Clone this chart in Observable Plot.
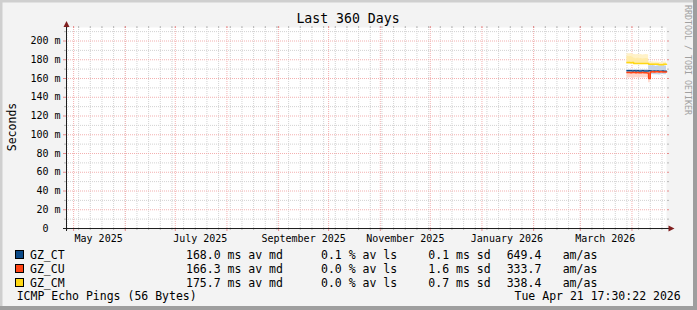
<!DOCTYPE html>
<html><head><meta charset="utf-8">
<script src="https://cdn.jsdelivr.net/npm/d3@7"></script>
<script src="https://cdn.jsdelivr.net/npm/@observablehq/plot@0.6"></script>
<style>
html,body{margin:0;padding:0;background:#f3f3f3;}
#chart{position:relative;width:697px;height:310px;overflow:hidden;}
#chart svg{display:block;}
</style></head><body><div id="chart"></div>
<script>
// ---- chart data ----
const titleText = "Last 360 Days";
const yTitle = "Seconds";
const watermark = "RRDTOOL / TOBI OETIKER";
const footerLeft = "ICMP Echo Pings (56 Bytes)";
const footerRight = "Tue Apr 21 17:30:22 2026";

const endTime = new Date(Date.UTC(2026, 3, 21, 17, 30, 22));
const spanDays = 360;

const yMajor = [0, 20, 40, 60, 80, 100, 120, 140, 160, 180, 200];
const yMinor = [10, 30, 50, 70, 90, 110, 130, 150, 170, 190, 210];
const xLabelDates = ["2025-05-16", "2025-07-16", "2025-09-16", "2025-11-16", "2026-01-16", "2026-03-16"];
const xLabels = ["May 2025", "July 2025", "September 2025", "November 2025", "January 2026", "March 2026"];

const hosts = ["GZ_CT", "GZ_CU", "GZ_CM"];
const hostColors = ["#0B4A88", "#FF4414", "#FFD814"];
const smokeColors = ["#C6D3E6", "#FFD3C6", "#FFF1C2"];
const avMedian = ["168.0", "166.3", "175.7"];
const avLoss = ["0.1", "0.0", "0.0"];
const avSd = ["0.1", "1.6", "0.7"];
const amas = ["649.4", "333.7", "338.4"];

const days = ["2026-03-29","2026-03-30","2026-03-31","2026-04-01","2026-04-02","2026-04-03",
  "2026-04-04","2026-04-05","2026-04-06","2026-04-07","2026-04-08","2026-04-09","2026-04-10",
  "2026-04-11","2026-04-12","2026-04-13","2026-04-14","2026-04-15","2026-04-16","2026-04-17",
  "2026-04-18","2026-04-19","2026-04-20","2026-04-21"];
// medians in ms
const ctMedian = [168.2,168.3,168.2,168.1,168.2,168.1,168.2,168.0,168.1,168.2,168.1,168.0,168.1,168.3,167.9,167.8,167.9,167.8,167.9,167.7,167.8,167.9,167.8,167.8];
const cuMedian = [166.4,166.3,166.2,166.3,166.4,166.2,166.3,166.1,166.2,166.3,166.1,166.2,166.0,160.0,167.0,167.1,167.0,167.2,167.1,167.0,167.1,166.9,167.0,166.9];
const cmMedian = [177.1,177.0,176.9,177.0,176.1,176.0,175.9,176.0,176.1,175.9,176.0,176.0,175.9,175.3,175.2,175.3,175.2,175.3,175.2,174.8,174.7,174.8,175.2,175.2];
// smoke ranges in ms
const ctLow  = [166.9,166.9,166.8,166.9,166.8,166.9,166.8,166.8,166.9,166.8,166.9,166.8,166.9,164.0,163.8,164.2,164.0,163.9,164.1,163.8,164.0,164.2,164.0,164.1];
const ctHigh = [169.4,169.5,169.4,169.3,169.4,169.5,169.4,169.3,169.4,169.5,169.4,169.3,169.4,173.6,173.4,173.8,173.5,173.2,173.6,173.4,173.5,173.3,173.6,173.4];
const cuLow  = [160.6,160.5,160.8,160.6,160.4,160.7,160.5,160.6,160.8,160.5,160.6,160.7,160.5,155.5,165.6,165.5,165.7,165.6,165.4,165.6,165.5,165.7,165.6,165.5];
const cuHigh = [167.4,167.5,167.3,167.4,167.5,167.3,167.4,167.5,167.3,167.4,167.5,167.3,167.4,167.2,168.4,168.5,168.3,168.4,168.5,168.3,168.4,168.5,168.3,168.4];
const cmLow  = [175.1,175.0,175.2,175.0,175.1,175.0,175.2,175.1,175.0,175.1,175.0,175.2,175.1,174.4,174.3,174.4,174.3,174.2,174.4,174.0,173.9,174.0,174.3,174.4];
const cmHigh = [186.5,186.3,186.6,185.9,185.6,185.4,185.7,185.3,185.5,185.2,185.4,185.6,185.3,178.0,177.6,177.8,177.5,177.7,177.6,177.3,177.2,177.4,177.6,177.5];
const cmCoreLow  = [176.2,176.1,176.3,176.2,175.8,175.7,175.9,175.8,175.7,175.8,175.9,175.8,175.7,174.9,174.8,174.9,174.8,174.9,174.8,174.5,174.4,174.5,174.8,174.9];
const cmCoreHigh = [183.5,183.2,183.6,182.8,181.6,181.2,181.5,181.0,181.3,180.9,181.2,181.4,181.0,176.4,176.2,176.3,176.1,176.2,176.1,175.8,175.7,175.9,176.1,176.2];

// ---- build ----
const startTime = new Date(+endTime - spanDays * 86400000);
const dayDates = days.map(d => new Date(d + "T00:00:00Z"));
function rows(...cols) {
  const r = dayDates.map((d, i) => ({date: d, a: cols[0][i], b: cols[1] ? cols[1][i] : null}));
  const last = r[r.length - 1];
  r.push({date: endTime, a: last.a, b: last.b});
  return r;
}
const months = d3.utcMonth.range(startTime, endTime);
const weeks = d3.utcSunday.range(startTime, endTime);
const labelDates = xLabelDates.map(d => new Date(d + "T00:00:00Z"));
const labelMap = new Map(labelDates.map((d, i) => [+d, xLabels[i]]));

const minorCol = "#D2D2D2";
const majorCol = "#F3B0B0";
const minorTick = "#B8B8B8";
const majorTick = "#E68A8A";
const axisCol = "#1F1F1F";
const FONT = "DejaVu Sans Mono";

const medians = [ctMedian, cuMedian, cmMedian];

const chart = Plot.plot({
  width: 697, height: 310,
  marginLeft: 66, marginRight: 31, marginTop: 27, marginBottom: 82,
  style: {background: "#f3f3f3", fontFamily: FONT, fontSize: "10px", color: "#000", overflow: "visible"},
  x: {type: "utc", domain: [startTime, endTime]},
  y: {domain: [0, 214.4]},
  marks: [
    Plot.frame({fill: "#ffffff", stroke: null}),
    Plot.ruleY(yMinor, {stroke: minorCol, strokeDasharray: "1,1"}),
    Plot.ruleX(weeks, {stroke: minorCol, strokeDasharray: "1,1"}),
    Plot.ruleY(yMajor.slice(1), {stroke: majorCol, strokeDasharray: "1,1"}),
    Plot.ruleX(months, {stroke: majorCol, strokeDasharray: "1,1"}),
    // smoke
    Plot.areaY(rows(ctLow, ctHigh), {x: "date", y1: "a", y2: "b", fill: smokeColors[0], curve: "step-after"}),
    Plot.areaY(rows(cuLow, cuHigh), {x: "date", y1: "a", y2: "b", fill: smokeColors[1], curve: "step-after", fillOpacity: 0.9}),
    Plot.areaY(rows(cmLow, cmHigh), {x: "date", y1: "a", y2: "b", fill: smokeColors[2], curve: "step-after", fillOpacity: 0.9}),
    Plot.areaY(rows(cmCoreLow, cmCoreHigh), {x: "date", y1: "a", y2: "b", fill: "#FFE9A0", curve: "step-after", fillOpacity: 0.8}),
    // medians
    ...medians.map((m, i) => Plot.line(rows(m), {x: "date", y: "a", stroke: hostColors[i], strokeWidth: 1.5, curve: "step-after"})),
    // y ticks
    Plot.axisY({ticks: yMinor, tickSize: 2, stroke: minorTick, fill: "none", label: null}),
    Plot.axisY({ticks: yMinor, anchor: "right", tickSize: 2, stroke: minorTick, fill: "none", label: null}),
    Plot.axisY({ticks: yMajor, tickSize: 3, tickPadding: 3, stroke: majorTick, fontSize: 10,
      tickFormat: v => v === 0 ? "0\u00a0\u00a0" : `${v} m`, label: null}),
    Plot.axisY({ticks: yMajor, anchor: "right", tickSize: 2, stroke: majorTick, fill: "none", label: null}),
    // x ticks
    Plot.axisX({ticks: weeks, tickSize: 2, stroke: minorTick, fill: "none", label: null}),
    Plot.axisX({ticks: weeks, anchor: "top", tickSize: 2, stroke: minorTick, fill: "none", label: null}),
    Plot.axisX({ticks: months, tickSize: 3, stroke: majorTick, fill: "none", label: null}),
    Plot.axisX({ticks: months, anchor: "top", tickSize: 2, stroke: majorTick, fill: "none", label: null}),
    Plot.axisX({ticks: labelDates, tickSize: 0, tickPadding: 6, fontSize: 10,
      tickFormat: d => labelMap.get(+d), label: null}),
    // axis lines
    Plot.ruleY([0], {stroke: axisCol, insetLeft: -3, insetRight: -3}),
    Plot.ruleX([startTime], {stroke: axisCol, insetBottom: -3})
  ]
});
document.getElementById("chart").appendChild(chart);

// ---- decorations / legend ----
const svg = d3.select(chart);
const X = chart.scale("x"), Y = chart.scale("y");
const x0 = X.apply(startTime) + 0.5, x1 = X.apply(endTime) + 0.5;
const y0 = Y.apply(0) + 0.5, yTop = Y.apply(214.4);
const arrowCol = "#801F1F";
svg.append("path").attr("d", `M${x0 - 3},${yTop} L${x0 + 3},${yTop} L${x0},${yTop - 6} Z`).attr("fill", arrowCol);
svg.append("path").attr("d", `M${x1 + 2},${y0 - 3} L${x1 + 2},${y0 + 3} L${x1 + 8},${y0} Z`).attr("fill", arrowCol);

// 3D frame
svg.append("rect").attr("x", 0).attr("y", 0).attr("width", 697).attr("height", 2.5).attr("fill", "#CFCFCF");
svg.append("rect").attr("x", 0).attr("y", 0).attr("width", 2.5).attr("height", 310).attr("fill", "#CFCFCF");
svg.append("rect").attr("x", 693).attr("y", 0).attr("width", 4).attr("height", 310).attr("fill", "#9E9E9E");
svg.append("rect").attr("x", 0).attr("y", 306).attr("width", 697).attr("height", 4).attr("fill", "#9E9E9E");

const txt = (x, y, s, size, opts = {}) => {
  const t = svg.append("text").attr("x", x).attr("y", y).text(s)
    .attr("font-family", FONT).attr("font-size", size).attr("fill", opts.fill || "#000")
    .attr("text-anchor", opts.anchor || "start")
    .attr("xml:space", "preserve").style("white-space", "pre");
  if (opts.transform) t.attr("transform", opts.transform).attr("x", 0).attr("y", 0);
  return t;
};
txt(348, 23, titleText, "13.2px", {anchor: "middle"});
txt(0, 0, yTitle, "11.5px", {anchor: "middle", transform: "translate(15.5,127) rotate(-90)"});
txt(0, 0, watermark, "8.3px", {fill: "#A0A0A0", transform: "translate(685,5) rotate(90)"});

const LF = "11.5px";
hosts.forEach((h, i) => {
  const base = 258.5 + i * 14;
  svg.append("rect").attr("x", 15.5).attr("y", base - 8).attr("width", 8).attr("height", 8)
    .attr("fill", hostColors[i]).attr("stroke", "#000").attr("stroke-width", 1);
  txt(30, base, h, LF);
  txt(186, base, `${avMedian[i]} ms av md`, LF);
  txt(321, base, `${avLoss[i]} % av ls`, LF);
  txt(428.3, base, `${avSd[i]} ms sd`, LF);
  txt(506.7, base, amas[i], LF);
  txt(562.7, base, "am/as", LF);
});
txt(16.7, 300.3, footerLeft, LF);
txt(680.7, 300.3, footerRight, LF, {anchor: "end"});
</script></body></html>
